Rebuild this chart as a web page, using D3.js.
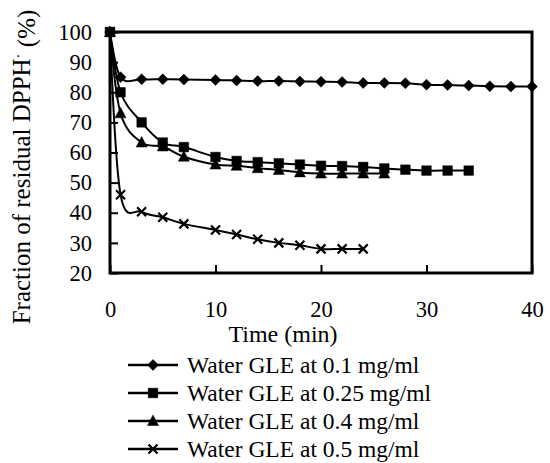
<!DOCTYPE html>
<html>
<head>
    <style>
        body { margin: 0; background: #fff; }
        text { font-family: "Liberation Serif", "Times New Roman", serif; fill: #000; }
        .axis text { font-size: 22.5px; }
        .axis line { stroke: #000; stroke-width: 2px; }
        .axis path { display: none; }
        .series path.line { fill: none; stroke: #000; stroke-width: 2px; }
    </style>
    <script src="https://d3js.org/d3.v7.min.js"></script>
</head>
<body>
    <svg width="550" height="463"></svg>
    <script>

        var svg = d3.select("svg"),
            plotLeft = 110, plotRight = 532, plotTop = 32, plotBottom = 273;

        // data
        var time01 = [0, 1, 3, 5, 7, 10, 12, 14, 16, 18, 20, 22, 24, 26, 28, 30, 32, 34, 36, 38, 40];
        var val01  = [100, 85, 84.3, 84.3, 84.2, 84.1, 83.9, 83.7, 83.7, 83.6, 83.5, 83.4, 83.1, 83.1, 83, 82.5, 82.4, 82.2, 82, 81.9, 81.9];
        var time025 = [0, 1, 3, 5, 7, 10, 12, 14, 16, 18, 20, 22, 24, 26, 28, 30, 32, 34];
        var val025  = [100, 80, 70, 63.3, 61.8, 58.5, 57.2, 56.8, 56.4, 56, 55.6, 55.5, 55.2, 54.7, 54.3, 54, 54, 54];
        var time04 = [0, 1, 3, 5, 7, 10, 12, 14, 16, 18, 20, 22, 24, 26];
        var val04  = [100, 73, 63.3, 62, 58.6, 56, 55.6, 54.8, 54.2, 53.4, 53, 53, 53, 53];
        var time05 = [0, 1, 3, 5, 7, 10, 12, 14, 16, 18, 20, 22, 24];
        var val05  = [100, 46, 40.3, 38.5, 36.3, 34.3, 32.8, 31.2, 30, 29.2, 28, 28, 28];

        var seriesNames = ["Water GLE at 0.1 mg/ml", "Water GLE at 0.25 mg/ml",
                           "Water GLE at 0.4 mg/ml", "Water GLE at 0.5 mg/ml"];
        var xTicks = [0, 10, 20, 30, 40];
        var yTicks = [20, 30, 40, 50, 60, 70, 80, 90, 100];

        var series = [
            { name: seriesNames[0], t: time01, v: val01, marker: "diamond" },
            { name: seriesNames[1], t: time025, v: val025, marker: "square" },
            { name: seriesNames[2], t: time04, v: val04, marker: "triangle" },
            { name: seriesNames[3], t: time05, v: val05, marker: "cross" }
        ];

        var x = d3.scaleLinear().domain([0, 40]).range([plotLeft, plotRight]);
        var y = d3.scaleLinear().domain([20, 100]).range([plotBottom, plotTop]);

        // marker shapes
        function markerPath(type) {
            if (type == "diamond") return "M0,-5.5L5.5,0L0,5.5L-5.5,0Z";
            if (type == "square") return "M-4.8,-4.8H4.8V4.8H-4.8Z";
            if (type == "triangle") return "M0,-6L5.5,4.5H-5.5Z";
            return "M-4.5,-4.5L4.5,4.5M-4.5,4.5L4.5,-4.5";
        }
        function drawMarker(sel, type) {
            sel.append("path")
               .attr("d", markerPath(type))
               .attr("fill", type == "cross" ? "none" : "#000")
               .attr("stroke", "#000")
               .attr("stroke-width", type == "cross" ? 2.2 : 0.5);
        }

        // axes, ticks pointing inside
        svg.append("g")
           .attr("class", "axis")
           .attr("transform", "translate(0," + plotBottom + ")")
           .call(d3.axisBottom(x).tickValues(xTicks).tickSizeInner(-8).tickSizeOuter(0).tickPadding(28));

        svg.append("g")
           .attr("class", "axis")
           .attr("transform", "translate(" + plotLeft + ",0)")
           .call(d3.axisLeft(y).tickValues(yTicks).tickSizeInner(-8).tickSizeOuter(0).tickPadding(18));

        var line = d3.line()
                     .x(function(d) { return x(d[0]); })
                     .y(function(d) { return y(d[1]); })
                     .curve(d3.curveCardinal.tension(0));

        var g = svg.selectAll(".series")
                   .data(series)
                   .enter().append("g")
                   .attr("class", "series");

        g.append("path")
         .attr("class", "line")
         .attr("d", function(s) { return line(d3.zip(s.t, s.v)); });

        g.each(function(s) {
            var grp = d3.select(this);
            d3.zip(s.t, s.v).forEach(function(p) {
                var m = grp.append("g").attr("transform", "translate(" + x(p[0]) + "," + y(p[1]) + ")");
                drawMarker(m, s.marker);
            });
        });

        // plot frame
        svg.append("rect")
           .attr("x", plotLeft).attr("y", plotTop)
           .attr("width", plotRight - plotLeft).attr("height", plotBottom - plotTop)
           .attr("fill", "none").attr("stroke", "#000").attr("stroke-width", 3);

        // axis titles
        svg.append("text")
           .attr("x", 283).attr("y", 342)
           .attr("text-anchor", "middle")
           .style("font-size", "24px")
           .text("Time (min)");

        var yl = svg.append("text")
           .attr("transform", "translate(30,167) rotate(-90)")
           .attr("text-anchor", "middle")
           .style("font-size", "25px");
        yl.append("tspan").text("Fraction of residual DPPH");
        yl.append("tspan").attr("dy", "-0.45em").style("font-size", "15px").text("·");
        yl.append("tspan").attr("dy", "0.45em").text("  (%)");

        // legend
        var lg = svg.selectAll(".legend")
                    .data(series)
                    .enter().append("g")
                    .attr("class", "legend")
                    .attr("transform", function(d, i) { return "translate(0," + (365 + i * 28) + ")"; });

        lg.append("line")
          .attr("x1", 128).attr("x2", 178)
          .attr("stroke", "#000").attr("stroke-width", 2.5);

        lg.each(function(s) {
            var m = d3.select(this).append("g").attr("transform", "translate(153,0)");
            drawMarker(m, s.marker);
        });

        lg.append("text")
          .attr("x", 187).attr("y", 8)
          .style("font-size", "23.5px")
          .text(function(d) { return d.name; });
    </script>
</body>
</html>
